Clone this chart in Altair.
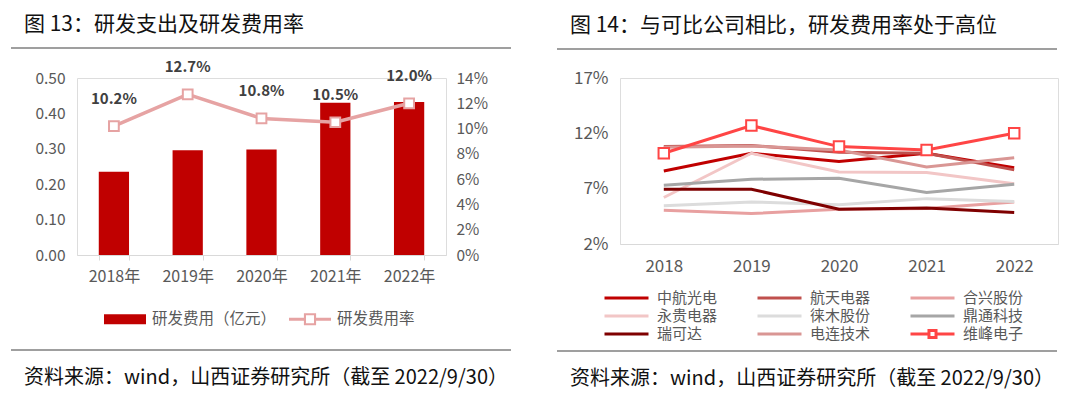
import altair as alt
import pandas as pd

FONT = "Noto Sans CJK SC"
GRAY = "#595959"

# ---------------- left panel data ----------------
years_l = ["2018年", "2019年", "2020年", "2021年", "2022年"]
rd_expense = [0.235, 0.296, 0.298, 0.430, 0.432]
rd_rate = [0.102, 0.127, 0.108, 0.105, 0.120]
rate_labels = ["10.2%", "12.7%", "10.8%", "10.5%", "12.0%"]
series_l = ["研发费用（亿元）", "研发费用率"]
colors_l = ["#C00000", "#E6A3A3"]

# ---------------- right panel data ----------------
years_r = ["2018", "2019", "2020", "2021", "2022"]
companies = ["中航光电", "航天电器", "合兴股份", "永贵电器", "徕木股份",
             "鼎通科技", "瑞可达", "电连技术", "维峰电子"]
zhonghang = [8.6, 10.2, 9.45, 10.2, 8.9]
hangtian = [10.8, 10.9, 10.3, 10.2, 8.7]
hexing = [5.05, 4.75, 5.15, 5.2, 5.8]
yonggui = [6.2, 10.2, 8.5, 8.45, 7.45]
laimu = [5.45, 5.8, 5.55, 6.1, 5.85]
dingtong = [7.3, 7.85, 7.95, 6.65, 7.4]
ruikeda = [6.95, 6.95, 5.15, 5.25, 4.85]
dianlian = [10.75, 10.85, 10.5, 8.95, 9.8]
weifeng = [10.2, 12.7, 10.8, 10.5, 12.0]
colors_r = ["#C00000", "#C0504D", "#E8A0A0", "#F2C6C6", "#DCDCDC",
            "#A6A6A6", "#7F0000", "#D99694", "#FF4545"]

title_l = "图 13：研发支出及研发费用率"
title_r = "图 14：与可比公司相比，研发费用率处于高位"
source = "资料来源：wind，山西证券研究所（截至 2022/9/30）"

# ---------------- helpers for decorations ----------------
def one():
    return alt.Data(values=[{"k": 1}])

def hrule(x1, x2, y, color="#7F7F7F", opacity=1):
    return alt.Chart(one()).mark_rule(color=color, strokeWidth=1.5,
                                      opacity=opacity).encode(
        x=alt.value(x1), x2=alt.value(x2), y=alt.value(y))

def label(txt, x, y, size):
    return alt.Chart(one()).mark_text(
        text=txt, align="left", baseline="middle", fontSize=size,
        font=FONT, color="#111111").encode(x=alt.value(x), y=alt.value(y))

# ---------------- left panel ----------------
df_bar = pd.DataFrame({"year": years_l, "value": rd_expense, "series": series_l[0]})
df_rate = pd.DataFrame({"year": years_l, "rate": rd_rate, "lab": rate_labels,
                        "series": series_l[1]})

x_l = alt.X("year:N", sort=years_l, title=None,
            scale=alt.Scale(paddingInner=0.59, paddingOuter=0.295),
            axis=alt.Axis(labelAngle=0, domainColor="#D9D9D9", tickColor="#D9D9D9",
                          tickSize=5, tickBand="extent", labelPadding=8,
                          labelFontSize=16, labelColor=GRAY, labelFont=FONT))

is_rate = "datum.value === '研发费用率'"
# filled-only symbol paths: line segments + hollow square (ring), and a flat bar
rate_path = ("M-1,-0.07H-0.29V0.07H-1Z M0.29,-0.07H1V0.07H0.29Z "
             "M-0.29,-0.29H0.29V0.29H-0.29Z M-0.19,-0.19V0.19H0.19V-0.19Z")
bar_path = "M-1,-0.24H1V0.24H-1Z"
legend_l = alt.Legend(
    orient="none", legendX=27, legendY=220, direction="horizontal", title=None,
    labelFontSize=15.5, labelColor=GRAY, labelFont=FONT, labelOffset=6,
    columnPadding=12, symbolSize=1764, symbolOpacity=1, symbolStrokeWidth=0,
    symbolType={"expr": is_rate + " ? '" + rate_path + "' : '" + bar_path + "'"})

color_l = alt.Color("series:N", scale=alt.Scale(domain=series_l, range=colors_l),
                    legend=legend_l)

bars = alt.Chart(df_bar).mark_bar(color="#C00000").encode(
    x=x_l,
    y=alt.Y("value:Q", title=None, scale=alt.Scale(domain=[0, 0.5], nice=False),
            axis=alt.Axis(values=[0, 0.1, 0.2, 0.3, 0.4, 0.5], format=".2f",
                          grid=False, domain=False, ticks=False, labelPadding=12,
                          labelFontSize=15.5, labelColor=GRAY, labelFont=FONT)),
    color=color_l)

y_rate = alt.Y("rate:Q", title=None, scale=alt.Scale(domain=[0, 0.14], nice=False),
               axis=alt.Axis(orient="right", values=[0, 0.02, 0.04, 0.06, 0.08, 0.10, 0.12, 0.14],
                             format=".0%", grid=False, domain=False, ticks=False,
                             labelPadding=10, labelFontSize=15.5, labelColor=GRAY,
                             labelFont=FONT))

rate_line = alt.Chart(df_rate).mark_line(strokeWidth=3.5).encode(
    x=x_l, y=y_rate, color=alt.Color("series:N"))
rate_pts = alt.Chart(df_rate).mark_point(
    shape="square", size=95, filled=True, fill="#FFFFFF", stroke="#E6A3A3",
    strokeWidth=2, opacity=1).encode(x=x_l, y=y_rate)
rate_txt = alt.Chart(df_rate).mark_text(
    dy=-27, fontSize=15, fontWeight="bold", font=FONT, color="#404040").encode(
    x=x_l, y=y_rate, text="lab:N")

rate_layer = alt.layer(rate_line, rate_pts, rate_txt)

left = alt.layer(
    bars, rate_layer,
    hrule(-66, 434, -69.5, color="#FFFFFF", opacity=0),
    label(title_l, -53, -53, 21),
    hrule(-66, 434, -30),
    hrule(-66, 434, 272),
    label(source, -53, 300, 20),
).resolve_scale(y="independent").properties(width=369, height=177)

# ---------------- right panel ----------------
series_map = {"中航光电": zhonghang, "航天电器": hangtian, "合兴股份": hexing,
              "永贵电器": yonggui, "徕木股份": laimu, "鼎通科技": dingtong,
              "瑞可达": ruikeda, "电连技术": dianlian, "维峰电子": weifeng}
rows = []
for c in companies:
    for y, v in zip(years_r, series_map[c]):
        rows.append({"company": c, "year": y, "rate": v})
df_r = pd.DataFrame(rows)
df_wf = pd.DataFrame({"year": years_r, "rate": weifeng})

x_r = alt.X("year:O", sort=years_r, title=None,
            scale=alt.Scale(type="point", padding=0.5),
            axis=alt.Axis(labelAngle=0, domainColor="#D9D9D9", ticks=False,
                          labelPadding=14, labelFontSize=17, labelColor=GRAY,
                          labelFont=FONT))
y_r = alt.Y("rate:Q", title=None, scale=alt.Scale(domain=[2, 17], nice=False),
            axis=alt.Axis(values=[2, 7, 12, 17], labelExpr="datum.value + '%'",
                          grid=False, domain=False, ticks=False, labelPadding=12,
                          labelFontSize=17, labelColor=GRAY, labelFont=FONT))

is_wf = "datum.value === '维峰电子'"
legend_r = alt.Legend(
    orient="none", legendX=-17, legendY=211, columns=3, direction="horizontal",
    title=None, symbolSize=1936, symbolStrokeWidth=3, symbolOpacity=1,
    symbolType={"expr": is_wf + " ? 'M-1,0H-0.16M0.16,0H1M-0.16,-0.16H0.16V0.16H-0.16Z' : 'stroke'"},
    symbolFillColor={"expr": is_wf + " ? '#FFFFFF' : 'transparent'"},
    labelFontSize=15, labelColor=GRAY, labelFont=FONT, labelOffset=7,
    columnPadding=38, rowPadding=0, clipHeight=18)

lines = alt.Chart(df_r).mark_line(strokeWidth=3).encode(
    x=x_r, y=y_r,
    color=alt.Color("company:N", sort=companies,
                    scale=alt.Scale(domain=companies, range=colors_r),
                    legend=legend_r))
wf_pts = alt.Chart(df_wf).mark_point(
    shape="square", size=110, filled=True, fill="#FFFFFF", stroke="#FF4545",
    strokeWidth=2, opacity=1).encode(x=x_r, y=y_r)

right = alt.layer(
    lines, wf_pts,
    hrule(-63, 437, -68.5, color="#FFFFFF", opacity=0),
    label(title_r, -50, -52, 21),
    hrule(-63, 437, -29),
    hrule(-63, 437, 273),
    label(source, -50, 301, 20),
).properties(width=438, height=166)

chart = alt.hconcat(left, right, spacing=42).resolve_scale(
    color="independent"
).properties(
    padding={"left": 1, "top": 0, "right": 0, "bottom": 0}
).configure_view(stroke=None).configure(font=FONT)

chart.save("out.html", embed_options={"renderer": "svg", "actions": False})
